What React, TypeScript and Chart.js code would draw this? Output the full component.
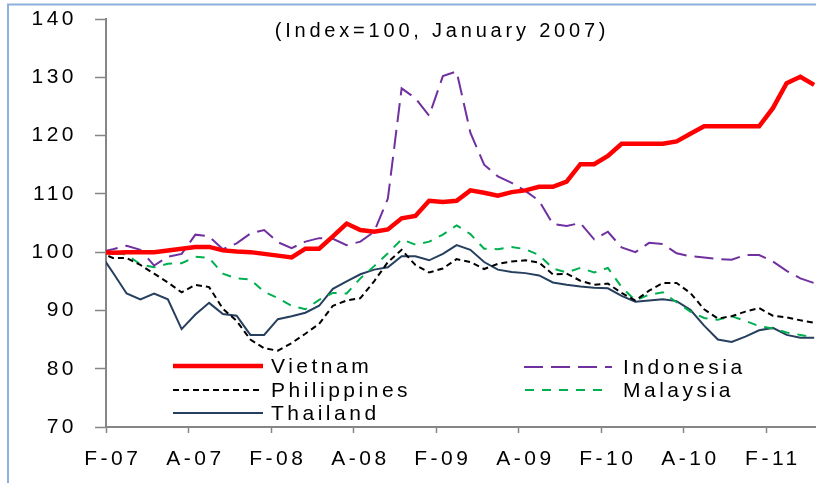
import React, { useEffect, useRef } from 'react';
import { Chart, registerables } from 'chart.js';

Chart.register(...registerables);

const categories = [
  'Jan-07', 'Feb-07', 'Mar-07', 'Apr-07', 'May-07', 'Jun-07', 'Jul-07', 'Aug-07', 'Sep-07', 'Oct-07', 'Nov-07', 'Dec-07',
  'Jan-08', 'Feb-08', 'Mar-08', 'Apr-08', 'May-08', 'Jun-08', 'Jul-08', 'Aug-08', 'Sep-08', 'Oct-08', 'Nov-08', 'Dec-08',
  'Jan-09', 'Feb-09', 'Mar-09', 'Apr-09', 'May-09', 'Jun-09', 'Jul-09', 'Aug-09', 'Sep-09', 'Oct-09', 'Nov-09', 'Dec-09',
  'Jan-10', 'Feb-10', 'Mar-10', 'Apr-10', 'May-10', 'Jun-10', 'Jul-10', 'Aug-10', 'Sep-10', 'Oct-10', 'Nov-10', 'Dec-10',
  'Jan-11', 'Feb-11', 'Mar-11', 'Apr-11', 'May-11',
];

const xTickLabels = ['F-07', 'A-07', 'F-08', 'A-08', 'F-09', 'A-09', 'F-10', 'A-10', 'F-11'];

const vietnam = [
  100, 99.9, 100, 100, 100, 100.3, 100.6, 100.9, 100.9, 100.3, 100.1, 100, 99.7, 99.4, 99.1,
  100.6, 100.6, 102.7, 104.9, 103.8, 103.5, 103.9, 105.8, 106.2, 108.8, 108.6,
  108.8, 110.6, 110.2, 109.7, 110.3, 110.6, 111.2, 111.2, 112.1, 115.1, 115.1,
  116.5, 118.6, 118.6, 118.6, 118.6, 119, 120.3, 121.6, 121.6, 121.6, 121.6, 121.6, 124.7, 129, 130.1, 128.7,
];

const indonesia = [
  100, 100.5, 101.1, 100.4, 97.7, 99.2, 99.7, 103, 102.7, 100.5, 101.5, 103.2, 103.8, 101.7, 100.7,
  101.8, 102.4, 102.3, 101.2, 101.8, 103.5, 109.2, 128.1, 126.4, 123.4, 130.2, 131,
  120.5, 115, 113, 111.9, 110.5, 108.8, 104.8, 104.5, 105, 102.2, 103.5, 100.8,
  100, 101.6, 101.4, 99.8, 99.3, 99.1, 98.8, 98.7, 99.5, 99.5, 98.4, 96.8, 95.5, 94.7,
];

const philippines = [
  100, 99, 99, 97.8, 96.3, 94.8, 93.1, 94.4, 94, 90.3, 88.2, 85, 83.5, 83.1, 84.4,
  86, 87.7, 90.8, 91.7, 92.1, 95, 98.3, 100.4, 97.8, 96.5, 97.2, 98.8,
  98.3, 97.1, 98, 98.4, 98.6, 98.2, 96.2, 96.3, 95.1, 94.4, 94.6, 93,
  91.7, 93.4, 94.7, 94.7, 93, 90.2, 88.6, 89, 89.8, 90.4, 89.1, 88.8, 88.3, 87.9,
];

const malaysia = [
  100, 99.8, 99.6, 97.9, 97.4, 98, 98.1, 99.2, 99, 96.3, 95.5, 95.3, 93.2, 92.1, 90.8,
  90.2, 91.8, 93, 92.9, 95.5, 97.6, 99.8, 102.2, 101.3, 101.8, 103, 104.6,
  103.1, 100.6, 100.5, 100.9, 100.5, 99.5, 97.2, 96.5, 97.3, 96.5, 97.3, 94,
  91.7, 92.7, 93.1, 91.4, 89.8, 88.7, 88.4, 89, 88.2, 87.3, 86.9, 86.2, 85.8, 85.4,
];

const thailand = [
  100, 96.5, 92.9, 91.9, 92.9, 91.9, 86.8, 89.3, 91.3, 89.4, 89.1, 85.8, 85.8, 88.5, 89,
  89.6, 90.8, 93.7, 95, 96.2, 97, 97.4, 99.3, 99.3, 98.6, 99.7, 101.2,
  100.4, 98.3, 97, 96.6, 96.4, 96, 94.8, 94.4, 94.1, 93.9, 93.8, 92.5,
  91.5, 91.7, 91.9, 91.6, 90.1, 87.4, 85, 84.6, 85.5, 86.6, 87, 85.8, 85.3, 85.3,
];

const titleText = '(Index=100, January 2007)';
const FONT = "'Liberation Sans', Arial, sans-serif";
const AXIS = '#868686';

export default function App() {
  const ref = useRef<HTMLCanvasElement | null>(null);

  useEffect(() => {
    if (!ref.current) return;

    const legendItems = [
      { ds: 0, x1: 173, x2: 263, y: 366, tx: 271 },
      { ds: 2, x1: 173, x2: 263, y: 390, tx: 271 },
      { ds: 4, x1: 173, x2: 263, y: 413, tx: 271 },
      { ds: 1, x1: 524, x2: 612, y: 367, tx: 623 },
      { ds: 3, x1: 525, x2: 604, y: 390, tx: 623 },
    ];

    const decor = {
      id: 'decor',
      beforeDraw(chart: any) {
        chart.ctx.letterSpacing = '3.5px';
      },
      afterDraw(chart: any) {
        const ctx = chart.ctx;
        ctx.save();
        ctx.strokeStyle = '#8DB0DC';
        ctx.lineWidth = 2;
        ctx.setLineDash([]);
        ctx.beginPath();
        ctx.moveTo(8, 483);
        ctx.lineTo(8, 4.5);
        ctx.lineTo(821, 4.5);
        ctx.stroke();
        ctx.letterSpacing = '3.8px';
        ctx.fillStyle = '#000';
        ctx.font = `20px ${FONT}`;
        ctx.textAlign = 'center';
        ctx.textBaseline = 'middle';
        ctx.fillText(titleText, 442, 31);
        ctx.letterSpacing = '3.5px';
        ctx.font = `21px ${FONT}`;
        ctx.textAlign = 'left';
        legendItems.forEach((it) => {
          const ds = chart.data.datasets[it.ds];
          ctx.strokeStyle = ds.borderColor;
          ctx.lineWidth = ds.borderWidth;
          ctx.setLineDash(ds.borderDash || []);
          ctx.beginPath();
          ctx.moveTo(it.x1, it.y);
          ctx.lineTo(it.x2, it.y);
          ctx.stroke();
          ctx.fillStyle = '#000';
          ctx.fillText(ds.label, it.tx, it.y + 1);
        });
        ctx.restore();
      },
    };

    const mk = (label: string, data: number[], color: string, width: number, dash: number[]) => ({
      label,
      data,
      borderColor: color,
      backgroundColor: color,
      borderWidth: width,
      borderDash: dash,
      pointRadius: 0,
      tension: 0,
      fill: false,
      clip: { left: 0, top: false, right: false, bottom: false },
    });

    const chart = new Chart(ref.current, {
      type: 'line',
      data: {
        labels: categories,
        datasets: [
          mk('Vietnam', vietnam, '#FF0000', 4.5, []),
          mk('Indonesia', indonesia, '#7030A0', 2, [19, 8]),
          mk('Philippines', philippines, '#000000', 2, [6, 4]),
          mk('Malaysia', malaysia, '#00B050', 2, [9, 8]),
          mk('Thailand', thailand, '#263F5E', 2, []),
        ] as any,
      },
      options: {
        responsive: false,
        animation: false,
        layout: { padding: { top: 19, left: 0, right: 0, bottom: 0 } },
        plugins: {
          legend: { display: false },
          tooltip: { enabled: false },
          title: { display: false },
        },
        scales: {
          x: {
            type: 'category',
            min: 1,
            offset: true,
            grid: {
              drawOnChartArea: false,
              offset: true,
              tickLength: 6,
              tickWidth: 1.5,
              tickColor: (c: any) => (c.index % 6 === 0 ? AXIS : 'rgba(0,0,0,0)'),
            },
            border: { color: AXIS, width: 2 },
            ticks: {
              autoSkip: false,
              maxRotation: 0,
              minRotation: 0,
              padding: 14,
              color: '#000',
              font: { size: 21, family: FONT },
              callback: (_v: any, i: number) => (i % 6 === 0 ? xTickLabels[i / 6] ?? '' : ''),
            },
            afterFit: (s: any) => {
              s.height = 56;
              s.paddingLeft = 0;
              s.paddingRight = 0;
            },
          },
          y: {
            min: 70,
            max: 140,
            grid: {
              drawOnChartArea: false,
              tickLength: 11,
              tickWidth: 1.5,
              tickColor: AXIS,
            },
            border: { color: AXIS, width: 2 },
            ticks: {
              stepSize: 10,
              padding: 18,
              color: '#000',
              font: { size: 21, family: FONT },
            },
            afterFit: (s: any) => {
              s.width = 106;
              s.paddingTop = 0;
              s.paddingBottom = 0;
            },
          },
        },
      } as any,
      plugins: [decor],
    });

    return () => chart.destroy();
  }, []);

  return (
    <div
      style={{
        position: 'fixed',
        left: 0,
        top: 0,
        width: 816,
        height: 483,
        overflow: 'hidden',
        background: '#fff',
      }}
    >
      <canvas ref={ref} width={821} height={483} style={{ display: 'block' }} />
    </div>
  );
}
